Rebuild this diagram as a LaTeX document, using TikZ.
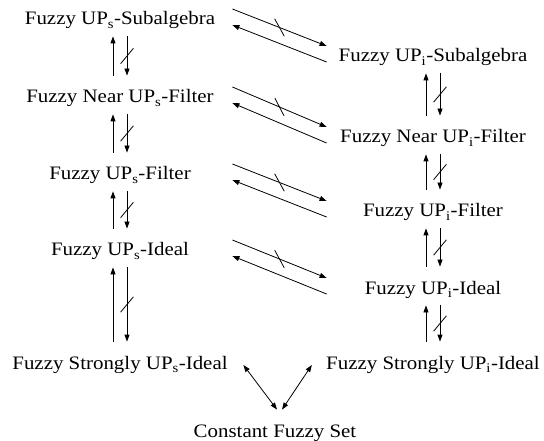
\documentclass[tikz,border=0pt]{standalone}
\usepackage{fontspec}
\setmainfont{Liberation Serif}[FakeStretch=1.1]
\usepackage{tikz}
\usetikzlibrary{positioning, arrows.meta, decorations.markings}
\tikzset{>={Triangle[length=7bp, width=5bp]}}
\tikzset{upnode/.style={inner sep=0pt, text height=27bp, text depth=11bp, anchor=base, font=\fontsize{19bp}{23bp}\selectfont}}
\tikzset{notimp/.style={postaction={decorate}, decoration={markings, mark=at position 0.5 with {\draw[-] (-7.7bp,6.4bp) -- (7.7bp,-6.4bp);}}}}

\begin{document}
\begin{tikzpicture}
    [x=1bp, y=-1bp, line width=0.8bp,
      sfam/.style={upnode, minimum width=224bp},
      ifam/.style={upnode, minimum width=212bp}]
    \useasboundingbox (0,0) rectangle (544,441);

    \node[sfam] (S1) at (120,25) {Fuzzy UP\textsubscript{s}-Subalgebra};
    \node[sfam] (S2) at (120,103) {Fuzzy Near UP\textsubscript{s}-Filter};
    \node[sfam] (S3) at (120,180) {Fuzzy UP\textsubscript{s}-Filter};
    \node[sfam] (S4) at (120,256) {Fuzzy UP\textsubscript{s}-Ideal};
    \node[sfam] (S5) at (120,369) {Fuzzy Strongly UP\textsubscript{s}-Ideal};

    \node[ifam] (I1) at (433,62) {Fuzzy UP\textsubscript{i}-Subalgebra};
    \node[ifam] (I2) at (433,143) {Fuzzy Near UP\textsubscript{i}-Filter};
    \node[ifam] (I3) at (433,217) {Fuzzy UP\textsubscript{i}-Filter};
    \node[ifam] (I4) at (433,294) {Fuzzy UP\textsubscript{i}-Ideal};
    \node[ifam] (I5) at (433,369) {Fuzzy Strongly UP\textsubscript{i}-Ideal};

    \node[upnode] (C) at (275,437) {Constant Fuzzy Set};

    % left column
    \draw[->] ([xshift=-7bp]S2.north) -- ([xshift=-7bp]S1.south);
    \draw[->, notimp] ([xshift=7bp]S1.south) -- ([xshift=7bp]S2.north);
    \draw[->] ([xshift=-7bp]S3.north) -- ([xshift=-7bp]S2.south);
    \draw[->, notimp] ([xshift=7bp]S2.south) -- ([xshift=7bp]S3.north);
    \draw[->] ([xshift=-7bp]S4.north) -- ([xshift=-7bp]S3.south);
    \draw[->, notimp] ([xshift=7bp]S3.south) -- ([xshift=7bp]S4.north);
    \draw[->] ([xshift=-7bp]S5.north) -- ([xshift=-7bp]S4.south);
    \draw[->, notimp] ([xshift=7bp]S4.south) -- ([xshift=7bp]S5.north);

    % right column
    \draw[->] ([xshift=-7bp]I2.north) -- ([xshift=-7bp]I1.south);
    \draw[->, notimp] ([xshift=7bp]I1.south) -- ([xshift=7bp]I2.north);
    \draw[->] ([xshift=-7bp]I3.north) -- ([xshift=-7bp]I2.south);
    \draw[->, notimp] ([xshift=7bp]I2.south) -- ([xshift=7bp]I3.north);
    \draw[->] ([xshift=-7bp]I4.north) -- ([xshift=-7bp]I3.south);
    \draw[->, notimp] ([xshift=7bp]I3.south) -- ([xshift=7bp]I4.north);
    \draw[->] ([xshift=-7bp]I5.north) -- ([xshift=-7bp]I4.south);
    \draw[->, notimp] ([xshift=7bp]I4.south) -- ([xshift=7bp]I5.north);

    % across
    \draw[->, notimp] ([yshift=8bp]S1.east) -- ([yshift=8bp]I1.west);
    \draw[->] ([yshift=-8bp]I1.west) -- ([yshift=-8bp]S1.east);
    \draw[->, notimp] ([yshift=8bp]S2.east) -- ([yshift=8bp]I2.west);
    \draw[->] ([yshift=-8bp]I2.west) -- ([yshift=-8bp]S2.east);
    \draw[->, notimp] ([yshift=8bp]S3.east) -- ([yshift=8bp]I3.west);
    \draw[->] ([yshift=-8bp]I3.west) -- ([yshift=-8bp]S3.east);
    \draw[->, notimp] ([yshift=8bp]S4.east) -- ([yshift=8bp]I4.west);
    \draw[->] ([yshift=-8bp]I4.west) -- ([yshift=-8bp]S4.east);

    \draw[<->] ([xshift=11bp, yshift=-4bp]S5.east) -- ([xshift=2bp]C.north);
    \draw[<->] ([xshift=-14bp, yshift=-4bp]I5.west) -- ([xshift=7bp]C.north);
  \end{tikzpicture}
\end{document}
